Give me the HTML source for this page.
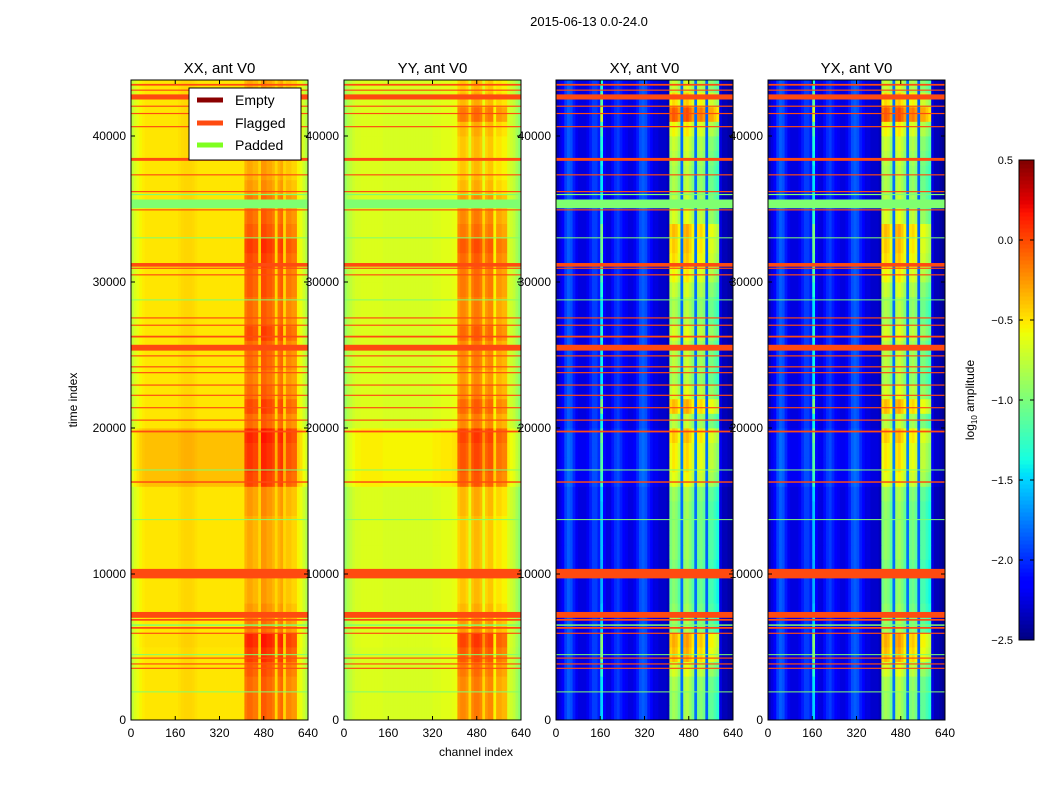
<!DOCTYPE html>
<html><head><meta charset="utf-8"><style>
body{margin:0;background:#fff;}
svg{display:block;font-family:"Liberation Sans",sans-serif;}
</style></head><body>
<svg id="fig" width="1050" height="800" viewBox="0 0 1050 800">
<rect width="1050" height="800" fill="#fff"/>
<text x="589" y="26" font-size="13" text-anchor="middle">2015-06-13 0.0-24.0</text>
<text x="476" y="756" font-size="12" text-anchor="middle">channel index</text>
<text transform="translate(77,400) rotate(-90)" font-size="12" text-anchor="middle">time index</text>
<g id="panels"></g>
<g id="cbar"></g>
<g id="legend">
<rect x="189" y="88" width="112" height="72" fill="#fff" stroke="#000"/>
<line x1="197" y1="100" x2="223" y2="100" stroke="#8b0000" stroke-width="5"/>
<text x="235" y="105" font-size="14">Empty</text>
<line x1="197" y1="123" x2="223" y2="123" stroke="#ff4a10" stroke-width="5"/>
<text x="235" y="128" font-size="14">Flagged</text>
<line x1="197" y1="145" x2="223" y2="145" stroke="#7fff20" stroke-width="5"/>
<text x="235" y="150" font-size="14">Padded</text>
</g>
</svg>
<script>
// ---- data ----
const panelTitles = ["XX, ant V0","YY, ant V0","XY, ant V0","YX, ant V0"];
const xTicks = [0,160,320,480,640];
const yTicks = [0,10000,20000,30000,40000];
const cbTicks = [-2.5,-2.0,-1.5,-1.0,-0.5,0.0,0.5];
// column profiles: 64 bins of 10 channels (log10 amplitude)
const colXX = [-0.75,-0.65,-0.6,-0.55,-0.52,-0.5,-0.5,-0.5,-0.5,-0.5,-0.5,-0.5,-0.5,-0.5,-0.5,-0.5,-0.5,-0.48,-0.46,-0.45,-0.45,-0.45,-0.46,-0.48,-0.5,-0.5,-0.5,-0.5,-0.5,-0.5,-0.5,-0.5,-0.5,-0.5,-0.5,-0.5,-0.5,-0.5,-0.5,-0.5,-0.5,-0.2,-0.15,-0.15,-0.2,-0.2,-0.45,-0.1,-0.1,-0.15,-0.15,-0.2,-0.45,-0.2,-0.15,-0.45,-0.25,-0.25,-0.3,-0.3,-0.55,-0.6,-0.7,-0.8];
const colYY = [-0.9,-0.8,-0.75,-0.7,-0.67,-0.67,-0.65,-0.65,-0.65,-0.65,-0.65,-0.65,-0.65,-0.65,-0.67,-0.67,-0.67,-0.67,-0.67,-0.67,-0.67,-0.67,-0.67,-0.67,-0.67,-0.67,-0.67,-0.67,-0.67,-0.67,-0.67,-0.67,-0.65,-0.65,-0.65,-0.63,-0.63,-0.63,-0.63,-0.61,-0.6,-0.3,-0.25,-0.25,-0.3,-0.5,-0.25,-0.2,-0.2,-0.25,-0.5,-0.3,-0.25,-0.25,-0.55,-0.35,-0.35,-0.4,-0.4,-0.65,-0.7,-0.75,-0.85,-0.95];
const colXY = [-2.35,-2.25,-2.15,-1.95,-1.85,-1.9,-2.05,-2.2,-2.25,-2.25,-2.25,-2.2,-2.05,-1.95,-1.95,-2.05,-1.5,-2.15,-2.25,-2.25,-2.1,-2.0,-1.95,-2.05,-2.15,-2.2,-2.25,-2.25,-2.2,-2.05,-1.9,-1.85,-1.9,-2.05,-2.15,-2.25,-2.25,-2.3,-2.3,-2.3,-2.35,-0.95,-0.85,-0.9,-1.05,-1.8,-0.85,-0.8,-0.9,-1.05,-1.8,-1.0,-0.95,-1.05,-1.85,-1.1,-1.1,-1.2,-1.3,-2.25,-2.35,-2.35,-2.4,-2.45];
const colYX = colXY;
// row modulation: 44 rows of 1000 time units (base offset, extra offset in bright channels)
const rowBaseXX = [0,0,0,0,0,0.02,0,0,0,0,0,0,0,0,0,0,0.12,0.12,0.12,0.12,0,0,0,0,0,0,0,0,0,0,0,0,0,0,0,0,0,0,0,0,0,0,0,0];
const rowBrightXX = [0.05,0.05,0.05,0.1,0.2,0.25,0,-0.1,-0.15,-0.15,-0.15,-0.15,-0.15,-0.15,-0.1,-0.1,0.05,0.1,0.1,0.15,0.05,0.15,0.05,0,0.05,0.05,0.15,0.05,0.05,0.1,0.1,0.15,0.2,0.1,0.05,0,-0.1,-0.15,-0.15,-0.15,-0.1,0.1,-0.1,-0.15];
const rowBaseXY = [0,0,0,0,0,0,0,0,0,0,0,0,0,0,0,0,0.05,0.05,0.05,0.05,0,0,0,0,0,0,0,0,0,0,0,0,0,0,0,0,0,0,0,0,0,0,0,0];
const rowBrightXY = [0,0,0.05,0.2,0.5,0.55,0,-0.05,-0.1,-0.1,-0.1,-0.05,-0.05,-0.05,-0.05,0,0.2,0.3,0.3,0.4,0.1,0.5,0.2,0.05,0.1,0.1,0.2,0.05,0.05,0.15,0.3,0.4,0.45,0.5,0.2,0.1,0.05,0.05,0.1,0.15,0.3,0.8,0.4,0.15];
// flagged rows: start time index, width
const flagStart = [43450,43100,42500,42000,41500,40600,38300,37300,36150,34900,31050,30900,30450,27500,27000,26200,25300,24900,24150,23750,22900,22200,21350,20500,19700,16250,9700,7000,6800,6250,5900,4200,3800,3500];
const flagWidth = [120,80,350,80,80,80,200,80,80,80,250,80,80,80,80,120,400,80,80,80,80,80,80,80,120,100,650,400,120,120,80,80,80,80];
// padded rows
const padStart = [35050,35950,33000,28750,17100,13700,6450,4450,1900];
const padWidth = [600,80,60,60,60,60,100,60,60];
const panelCols = [colXX,colYY,colXY,colYX];
const panelBase = [rowBaseXX,rowBaseXX,rowBaseXY,rowBaseXY];
const panelBright = [rowBrightXX,rowBrightXX,rowBrightXY,rowBrightXY];
const panelThresh = [-0.4,-0.55,-1.6,-1.6];

// ---- rendering ----
const NS="http://www.w3.org/2000/svg";
const panelX=[131,344,556,768], PW=177, PT=80, PB=720, TMAX=43836, CMAX=640;
const VMIN=-2.5, VMAX=0.5;
const JR=[[0,0],[0.35,0],[0.66,1],[0.89,1],[1,0.5]];
const JG=[[0,0],[0.125,0],[0.375,1],[0.64,1],[0.91,0],[1,0]];
const JB=[[0,0.5],[0.11,1],[0.34,1],[0.65,0],[1,0]];
function seg(s,t){for(let i=1;i<s.length;i++){if(t<=s[i][0]){const a=s[i-1],b=s[i];return a[1]+(b[1]-a[1])*(t-a[0])/(b[0]-a[0]);}}return s[s.length-1][1];}
function jet(v){let t=(v-VMIN)/(VMAX-VMIN);t=Math.max(0,Math.min(1,t));
 return `rgb(${Math.round(255*seg(JR,t))},${Math.round(255*seg(JG,t))},${Math.round(255*seg(JB,t))})`;}
function mk(tag,attrs,parent){const e=document.createElementNS(NS,tag);for(const k in attrs)e.setAttribute(k,attrs[k]);parent.appendChild(e);return e;}
const root=document.getElementById('panels');
for(let p=0;p<4;p++){
 const x0=panelX[p];
 const xs=c=>x0+c/CMAX*PW;
 const ys=t=>PB-t/TMAX*(PB-PT);
 const g=mk('g',{},root);
 
 
 const cols=panelCols[p], base=panelBase[p], br=panelBright[p];
 const nC=cols.length, nR=base.length, cw=CMAX/nC;
 for(let r=0;r<nR;r++){
  const t0=r*1000, t1=Math.min(TMAX,(r+1)*1000);
  for(let c=0;c<nC;c++){
   let v=cols[c]+base[r]+(cols[c]>panelThresh[p]?br[r]:0);
   const rc=mk('rect',{x:xs(c*cw),y:ys(t1),width:PW/nC+0.4,height:ys(t0)-ys(t1)+0.4,fill:jet(v)},g);
   
   
  }
 }
 for(let i=0;i<padStart.length;i++){
  const rr=mk('rect',{x:x0,y:ys(padStart[i]+padWidth[i]),width:PW,height:Math.max(1,ys(padStart[i])-ys(padStart[i]+padWidth[i])),fill:'#7fff70'},g);
  
  
 }
 for(let i=0;i<flagStart.length;i++){
  const rr=mk('rect',{x:x0,y:ys(flagStart[i]+flagWidth[i]),width:PW,height:Math.max(1,ys(flagStart[i])-ys(flagStart[i]+flagWidth[i])),fill:'#ff4a10'},g);
  
  
 }
 const fr=mk('rect',{x:x0,y:PT,width:PW,height:PB-PT,fill:'none',stroke:'#000','stroke-width':1},g);
 
 
 const tt=mk('text',{x:x0+PW/2,y:73,'font-size':15,'text-anchor':'middle'},g);
 tt.textContent=panelTitles[p];
 
 
 xTicks.forEach(v=>{const X=xs(v);
  mk('line',{x1:X,y1:PB,x2:X,y2:PB-4,stroke:'#000'},g);mk('line',{x1:X,y1:PT,x2:X,y2:PT+4,stroke:'#000'},g);
  const l=mk('text',{x:X,y:PB+17,'font-size':12,'text-anchor':'middle'},g);l.textContent=v;
  
  });
 yTicks.forEach(v=>{const Y=ys(v);
  mk('line',{x1:x0,y1:Y,x2:x0+4,y2:Y,stroke:'#000'},g);mk('line',{x1:x0+PW,y1:Y,x2:x0+PW-4,y2:Y,stroke:'#000'},g);
  const l=mk('text',{x:x0-5,y:Y+4,'font-size':12,'text-anchor':'end'},g);l.textContent=v;
  
  });
}
// colorbar
const cb=document.getElementById('cbar');
const CBX=1019,CBW=15,CBT=160,CBB=640;
const cys=v=>CBB-(v-VMIN)/(VMAX-VMIN)*(CBB-CBT);
for(let i=0;i<120;i++){const v0=VMIN+i*(VMAX-VMIN)/120,v1=VMIN+(i+1)*(VMAX-VMIN)/120;
 mk('rect',{x:CBX,y:cys(v1),width:CBW,height:cys(v0)-cys(v1)+0.5,fill:jet((v0+v1)/2)},cb);}
mk('rect',{x:CBX,y:CBT,width:CBW,height:CBB-CBT,fill:'none',stroke:'#000'},cb);
cbTicks.forEach(v=>{const Y=cys(v);
 mk('line',{x1:CBX,y1:Y,x2:CBX+4,y2:Y,stroke:'#000'},cb);mk('line',{x1:CBX+CBW,y1:Y,x2:CBX+CBW-4,y2:Y,stroke:'#000'},cb);
 const l=mk('text',{x:CBX-6,y:Y+4,'font-size':11,'text-anchor':'end'},cb);
 l.textContent=(v<0?'\u2212':'')+Math.abs(v).toFixed(1);
 
 });
const cl=mk('text',{transform:'translate(974,400) rotate(-90)','font-size':12,'text-anchor':'middle'},cb);
cl.innerHTML='log<tspan font-size="8" dy="3">10</tspan><tspan dy="-3"> amplitude</tspan>';


document.getElementById('fig').appendChild(document.getElementById('legend'));
</script>
</body></html>
